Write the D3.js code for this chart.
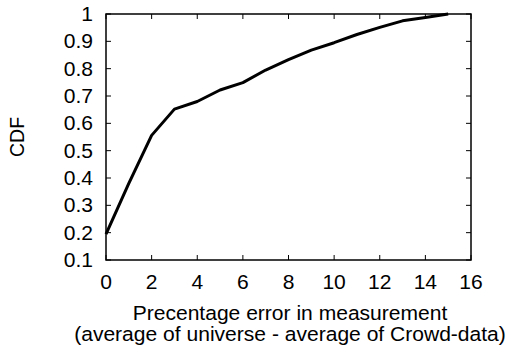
<!DOCTYPE html>
<html>
<head>
<meta charset="utf-8">
<script src="https://cdn.jsdelivr.net/npm/d3@7"></script>
<style>
body { margin: 0; background: #fff; }
text { font-family: "Liberation Sans", Arial, sans-serif; fill: #000; }
</style>
</head>
<body>
<div id="chart"></div>
<script>
// values
var errPct = [0, 1, 2, 3, 4, 5, 6, 7, 8, 9, 10, 11, 12, 13, 14, 15];
var cdfVals = [0.195, 0.38, 0.556, 0.652, 0.68, 0.722, 0.749, 0.795, 0.833, 0.868, 0.895, 0.925, 0.951, 0.975, 0.987, 1.0];
var xTicks = [0, 2, 4, 6, 8, 10, 12, 14, 16];
var yTicks = [0.1, 0.2, 0.3, 0.4, 0.5, 0.6, 0.7, 0.8, 0.9, 1];

var W = 510, H = 347;
var plotL = 106, plotR = 471, plotT = 14, plotB = 260;

var svg = d3.select('#chart')
    .append('svg')
    .attr('width', W)
    .attr('height', H);

var x = d3.scaleLinear().domain([0, 16]).range([plotL, plotR]);
var y = d3.scaleLinear().domain([0.1, 1]).range([plotB, plotT]);

var tickLen = 5;
var fontSize = '19.5px';
var stretch = 1.08; // the reference text is a bit wide

var label = function(px, py, anchor, txt, dy) {
	return svg.append('text')
		.attr('transform', 'translate(' + px + ',' + py + ') scale(' + stretch + ',1)')
		.attr('text-anchor', anchor)
		.attr('dy', dy || 0)
		.style('font-size', fontSize)
		.text(txt);
}

// frame
svg.append('rect')
    .attr('x', plotL)
    .attr('y', plotT)
    .attr('width', plotR - plotL)
    .attr('height', plotB - plotT)
    .attr('fill', 'none')
    .attr('stroke', '#000')
    .attr('stroke-width', 1.5);

// ticks (mirrored, pointing inward)
var g = svg.append('g').attr('stroke', '#000').attr('stroke-width', 1);
xTicks.forEach(function(t) {
	g.append('line').attr('x1', x(t)).attr('x2', x(t)).attr('y1', plotB).attr('y2', plotB - tickLen);
	g.append('line').attr('x1', x(t)).attr('x2', x(t)).attr('y1', plotT).attr('y2', plotT + tickLen);
});
yTicks.forEach(function(t) {
	g.append('line').attr('x1', plotL).attr('x2', plotL + tickLen).attr('y1', y(t)).attr('y2', y(t));
	g.append('line').attr('x1', plotR).attr('x2', plotR - tickLen).attr('y1', y(t)).attr('y2', y(t));
});

// tick labels
xTicks.forEach(function(t) {
	label(x(t), 289, 'middle', t);
});
yTicks.forEach(function(t) {
	label(93, y(t), 'end', t, '0.36em');
});

// axis titles
label(290, 320, 'middle', 'Precentage error in measurement');
label(290, 341, 'middle', '(average of universe - average of Crowd-data)');

svg.append('text')
    .attr('transform', 'translate(24,' + ((plotT + plotB) / 2) + ') rotate(-90)')
    .attr('text-anchor', 'middle')
    .style('font-size', fontSize)
    .text('CDF');

// the curve
var line = d3.line()
    .x((d, i) => x(errPct[i]))
    .y(d => y(d));

svg.append('path')
    .datum(cdfVals)
    .attr('d', line)
    .attr('fill', 'none')
    .attr('stroke', '#000')
    .attr('stroke-width', 3)
    .attr('stroke-linejoin', 'round');
</script>
</body>
</html>
